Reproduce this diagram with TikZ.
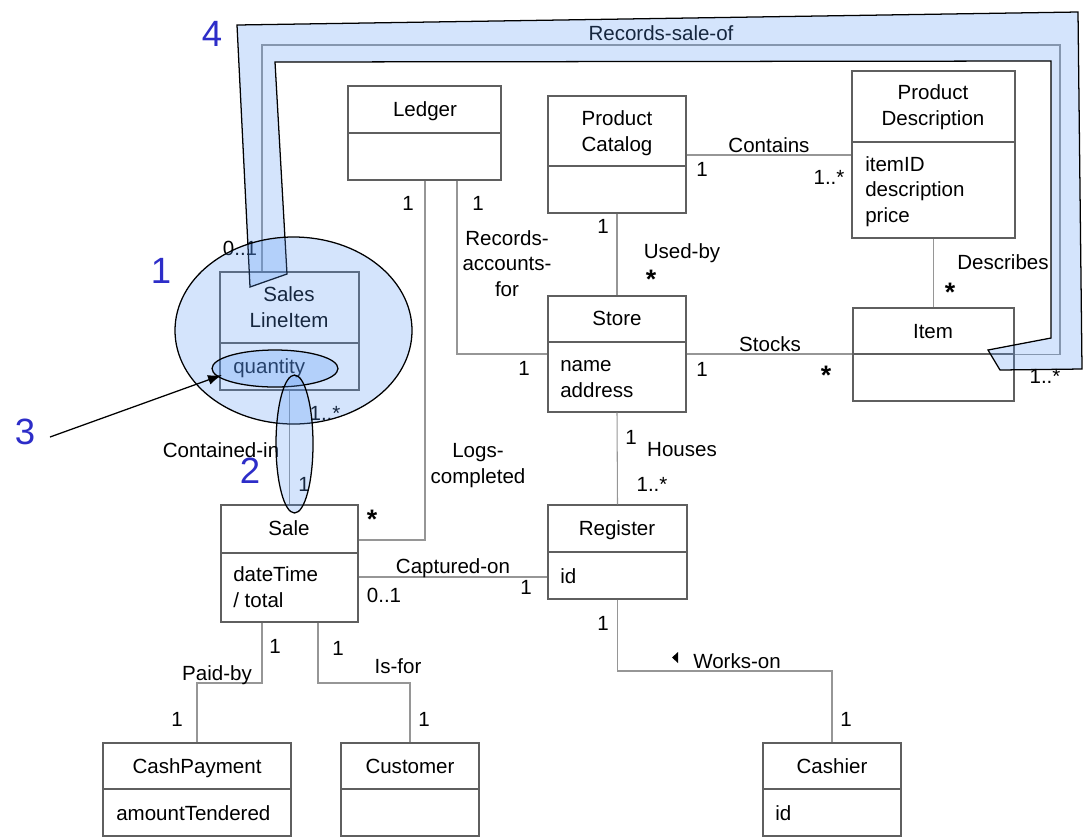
\documentclass[tikz,border=0pt]{standalone}
\usepackage{fontspec}
\setmainfont{Liberation Sans}
\usetikzlibrary{arrows.meta,fit}

\definecolor{boxgray}{RGB}{95,95,95}
\definecolor{linkgray}{RGB}{150,150,150}
\definecolor{hlblue}{RGB}{87,150,243}
\definecolor{tagblue}{RGB}{45,45,200}

\tikzset{
  cls/.style={draw=boxgray, line width=0.75pt, inner sep=0pt},
  assoc/.style={draw=linkgray, line width=0.75pt},
  lbl/.style={inner sep=0pt, anchor=base, align=center},
  attr/.style={inner sep=0pt, anchor=base west, align=left},
  bigstar/.style={inner sep=0pt, anchor=north, font=\fontsize{19}{20}\selectfont\bfseries},
  hl/.style={draw=black, line width=0.9pt, fill=hlblue, fill opacity=0.26},
  tag/.style={inner sep=0pt, anchor=base, text=tagblue, font=\fontsize{26}{28}\selectfont},
}

% class box: name, x1, y1, x2, y2, y of divider
\newcommand{\classbox}[6]{%
  \coordinate (#1-nw) at (#2,#3);
  \coordinate (#1-se) at (#4,#5);
  \node[cls, fit=(#1-nw)(#1-se)] (#1) {};
  \draw[cls] (#2,#6) -- (#4,#6);
}

\begin{document}
\begin{tikzpicture}[x=0.025cm, y=-0.025cm, font=\fontsize{14.6}{17.8}\selectfont]
  \useasboundingbox (0,0) rectangle (1083,838);

  % classes
  \classbox{ledger}{348}{86}{501}{180}{133}
  \classbox{pcat}{548}{96}{686}{213}{166}
  \classbox{pdesc}{852}{71}{1015}{238}{142}
  \classbox{store}{548}{296}{686}{412}{342}
  \classbox{item}{853}{308}{1014}{401}{354}
  \classbox{sli}{220}{272}{359}{390}{343}
  \classbox{sale}{221}{505}{358}{622}{553}
  \classbox{register}{548}{505}{687}{599}{552}
  \classbox{cash}{103}{743}{291}{836}{789}
  \classbox{cust}{341}{743}{479}{836}{789}
  \classbox{cashier}{763}{743}{901}{836}{789}

  % multi-line texts sit on the baseline of their last line
  \node[lbl] (ledger-name) at (425,116) {Ledger};
  \node[lbl] (pcat-name) at (617,151) {Product\\Catalog};
  \node[lbl] (pdesc-name) at (933,125) {Product\\Description};
  \node[lbl] (store-name) at (617,325) {Store};
  \node[lbl] (item-name) at (933,338) {Item};
  \node[lbl] (sli-name) at (289,327) {Sales\\LineItem};
  \node[lbl] (sale-name) at (289,535) {Sale};
  \node[lbl] (register-name) at (617,535) {Register};
  \node[lbl] (cash-name) at (197,773) {CashPayment};
  \node[lbl] (cust-name) at (410,773) {Customer};
  \node[lbl] (cashier-name) at (832,773) {Cashier};

  \node[attr] (pdesc-attr) at (865,222) {itemID\\description\\price};
  \node[attr] (store-attr) at (560,397) {name\\address};
  \node[attr] (sli-attr) at (233,373) {quantity};
  \node[attr] (sale-attr) at (233,607) {dateTime\\/ total};
  \node[attr] (register-attr) at (560,583) {id};
  \node[attr] (cash-attr) at (116,820) {amountTendered};
  \node[attr] (cashier-attr) at (775,820) {id};

  % associations
  \coordinate (rso-corner) at (1060,45);
  \draw[assoc] (sli.north -| 262,0) |- (rso-corner) |- (item.east);
  \draw[assoc] (ledger.south -| 425,0) |- (sale.east |- 0,540);
  \draw[assoc] (ledger.south -| 457,0) |- (store.west);
  \draw[assoc] (pcat.east |- 0,155) -- (pdesc.west |- 0,155);
  \draw[assoc] (pcat.south) -- (store.north);
  \draw[assoc] (pdesc.south) -- (item.north);
  \draw[assoc] (store.east) -- (item.west |- store.east);
  \draw[assoc] (store.south) -- (register.north);
  \draw[assoc] (sale.east |- 0,577) -- (register.west |- 0,577);
  \draw[assoc] (sli.south) -- (sale.north);
  \draw[assoc] (sale.south -| 262,0) |- (cash.north |- 0,683) -- (cash.north);
  \draw[assoc] (sale.south -| 318,0) |- (cust.north |- 0,683) -- (cust.north);
  \draw[assoc] (register.south) |- (cashier.north |- 0,671) -- (cashier.north);

  % association names and multiplicities
  \node[lbl] (rso-name) at (661,40) {Records-sale-of};
  \node[lbl] (rso-m1) at (240,255) {0..1};
  \node[lbl] (rso-m2) at (1045,383) {1..*};
  \node[lbl] (lc-m1) at (408,210) {1};
  \node[bigstar] (lc-m2) at (372,510) {*};
  \node[lbl] (lc-name) at (478,483) {Logs-\\completed};
  \node[lbl] (raf-m1) at (478,210) {1};
  \node[lbl] (raf-name) at (507,296) {Records-\\accounts-\\for};
  \node[lbl] (raf-m2) at (524,375) {1};
  \node[lbl] (con-name) at (769,152) {Contains};
  \node[lbl] (con-m1) at (702,176) {1};
  \node[lbl] (con-m2) at (829,184) {1..*};
  \node[lbl] (ub-m1) at (603,233) {1};
  \node[lbl] (ub-name) at (682,258) {Used-by};
  \node[bigstar] (ub-m2) at (651,270) {*};
  \node[lbl] (des-name) at (1003,269) {Describes};
  \node[bigstar] (des-m2) at (950,283) {*};
  \node[lbl] (stk-name) at (770,351) {Stocks};
  \node[lbl] (stk-m1) at (702,376) {1};
  \node[bigstar] (stk-m2) at (826,366) {*};
  \node[lbl] (hou-m1) at (631,444) {1};
  \node[lbl] (hou-name) at (682,456) {Houses};
  \node[lbl] (hou-m2) at (652,491) {1..*};
  \node[lbl] (cap-name) at (453,573) {Captured-on};
  \node[lbl] (cap-m1) at (384,602) {0..1};
  \node[lbl] (cap-m2) at (526,594) {1};
  \node[lbl] (pb-m1) at (275,653) {1};
  \node[lbl] (pb-name) at (217,680) {Paid-by};
  \node[lbl] (pb-m2) at (177,726) {1};
  \node[lbl] (if-m1) at (338,655) {1};
  \node[lbl] (if-name) at (398,673) {Is-for};
  \node[lbl] (if-m2) at (424,726) {1};
  \node[lbl] (wo-m1) at (603,630) {1};
  \node[lbl] (wo-name) at (737,668) {Works-on};
  \fill (678,652) -- (678,663) -- (672,657.5) -- cycle;
  \node[lbl] (wo-m2) at (846,726) {1};
  \node[lbl] (ci-m1) at (325,420) {1..*};
  \node[lbl] (ci-name) at (221,457) {Contained-in};
  \node[lbl] (ci-m2) at (304,491) {1};

  % highlights
  \draw[hl] (237,25) -- (1078,12) -- (1082,369) -- (1000,370) -- (988,350)
    -- (1051,338) -- (1051,61) -- (275,62) -- (287,274) -- (250,287) -- cycle;
  \draw[hl] (293.5,330.5) ellipse [x radius=118.5, y radius=93.5];
  \draw[hl] (275,368.5) ellipse [x radius=63, y radius=18.5];
  \draw[hl] (294.5,444) ellipse [x radius=18.5, y radius=69];

  \coordinate (arrow-start) at (50,437);
  \coordinate (arrow-end) at (222,375);
  \draw[line width=0.9pt, -{Latex[length=10pt,width=7pt]}] (arrow-start) -- (arrow-end);

  \node[tag] (tag1) at (161,283) {1};
  \node[tag] (tag2) at (250,483) {2};
  \node[tag] (tag3) at (25,444) {3};
  \node[tag] (tag4) at (212,46) {4};
\end{tikzpicture}
\end{document}
